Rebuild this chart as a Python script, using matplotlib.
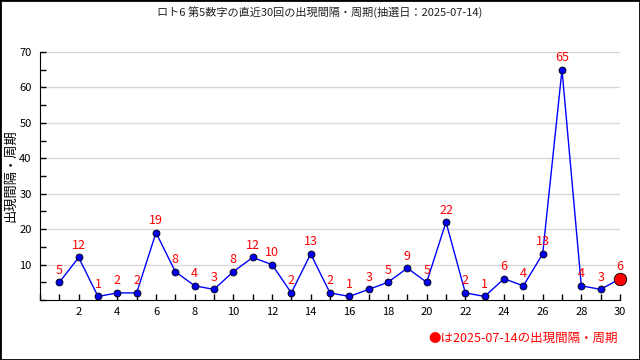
import numpy as np
import matplotlib.pyplot as plt
from matplotlib.ticker import MultipleLocator

plt.rcParams['font.family'] = ['Noto Sans CJK JP', 'DejaVu Sans']

rounds = list(range(1, 31))
gaps = [5, 12, 1, 2, 2, 19, 8, 4, 3, 8, 12, 10, 2, 13, 2, 1, 3, 5, 9, 5,
        22, 2, 1, 6, 4, 13, 65, 4, 3, 6]
title = 'ロト6 第5数字の直近30回の出現間隔・周期(抽選日：2025-07-14)'
note = '●は2025-07-14の出現間隔・周期'

fig = plt.figure(figsize=(6.4, 3.6), dpi=100)
ax = fig.add_axes([40/640, 1 - 300/360, 580/640, 248/360])

ax.yaxis.grid(True, color='#d8d8d8', linewidth=1)
ax.set_axisbelow(True)
ax.plot(rounds, gaps, color='#0000ff', linewidth=1, marker='o', markersize=5,
        markerfacecolor='#0000ee', markeredgecolor='black', markeredgewidth=0.6,
        zorder=3)
ax.plot(rounds[-1], gaps[-1], marker='o', markersize=9, color='red',
        markeredgecolor='black', markeredgewidth=0.6, zorder=4, clip_on=False)

for x, y in zip(rounds, gaps):
    ax.annotate(str(y), (x, y), xytext=(0, 4), textcoords='offset points',
                ha='center', va='bottom', color='red', fontsize=9)

ax.set_xlim(0, 30)
ax.set_ylim(0, 70)
ax.xaxis.set_minor_locator(MultipleLocator(1))
ax.yaxis.set_minor_locator(MultipleLocator(5))
ax.set_xticks(range(2, 31, 2))
ax.set_yticks(range(10, 71, 10))
ax.tick_params(which='both', direction='in', length=4, width=1, labelsize=8)
ax.tick_params(axis='y', pad=6)
ax.tick_params(axis='x', pad=5)
ax.spines['top'].set_visible(False)
ax.spines['right'].set_visible(False)
ax.set_ylabel('出現間隔・周期', fontsize=9.5)
ax.yaxis.set_label_coords(-0.039, 0.5)

fig.text(0.5, 1 - 12/360, title, ha='center', va='center', fontsize=8,
         color='#222222')
fig.text(618/640, 1 - 338/360, note, ha='right', va='center', color='red', fontsize=9)

border = plt.Rectangle((0, 0), 1, 1, transform=fig.transFigure, fill=False,
                       edgecolor='black', linewidth=2)
fig.patches.append(border)

fig.savefig('out.png', dpi=100)
